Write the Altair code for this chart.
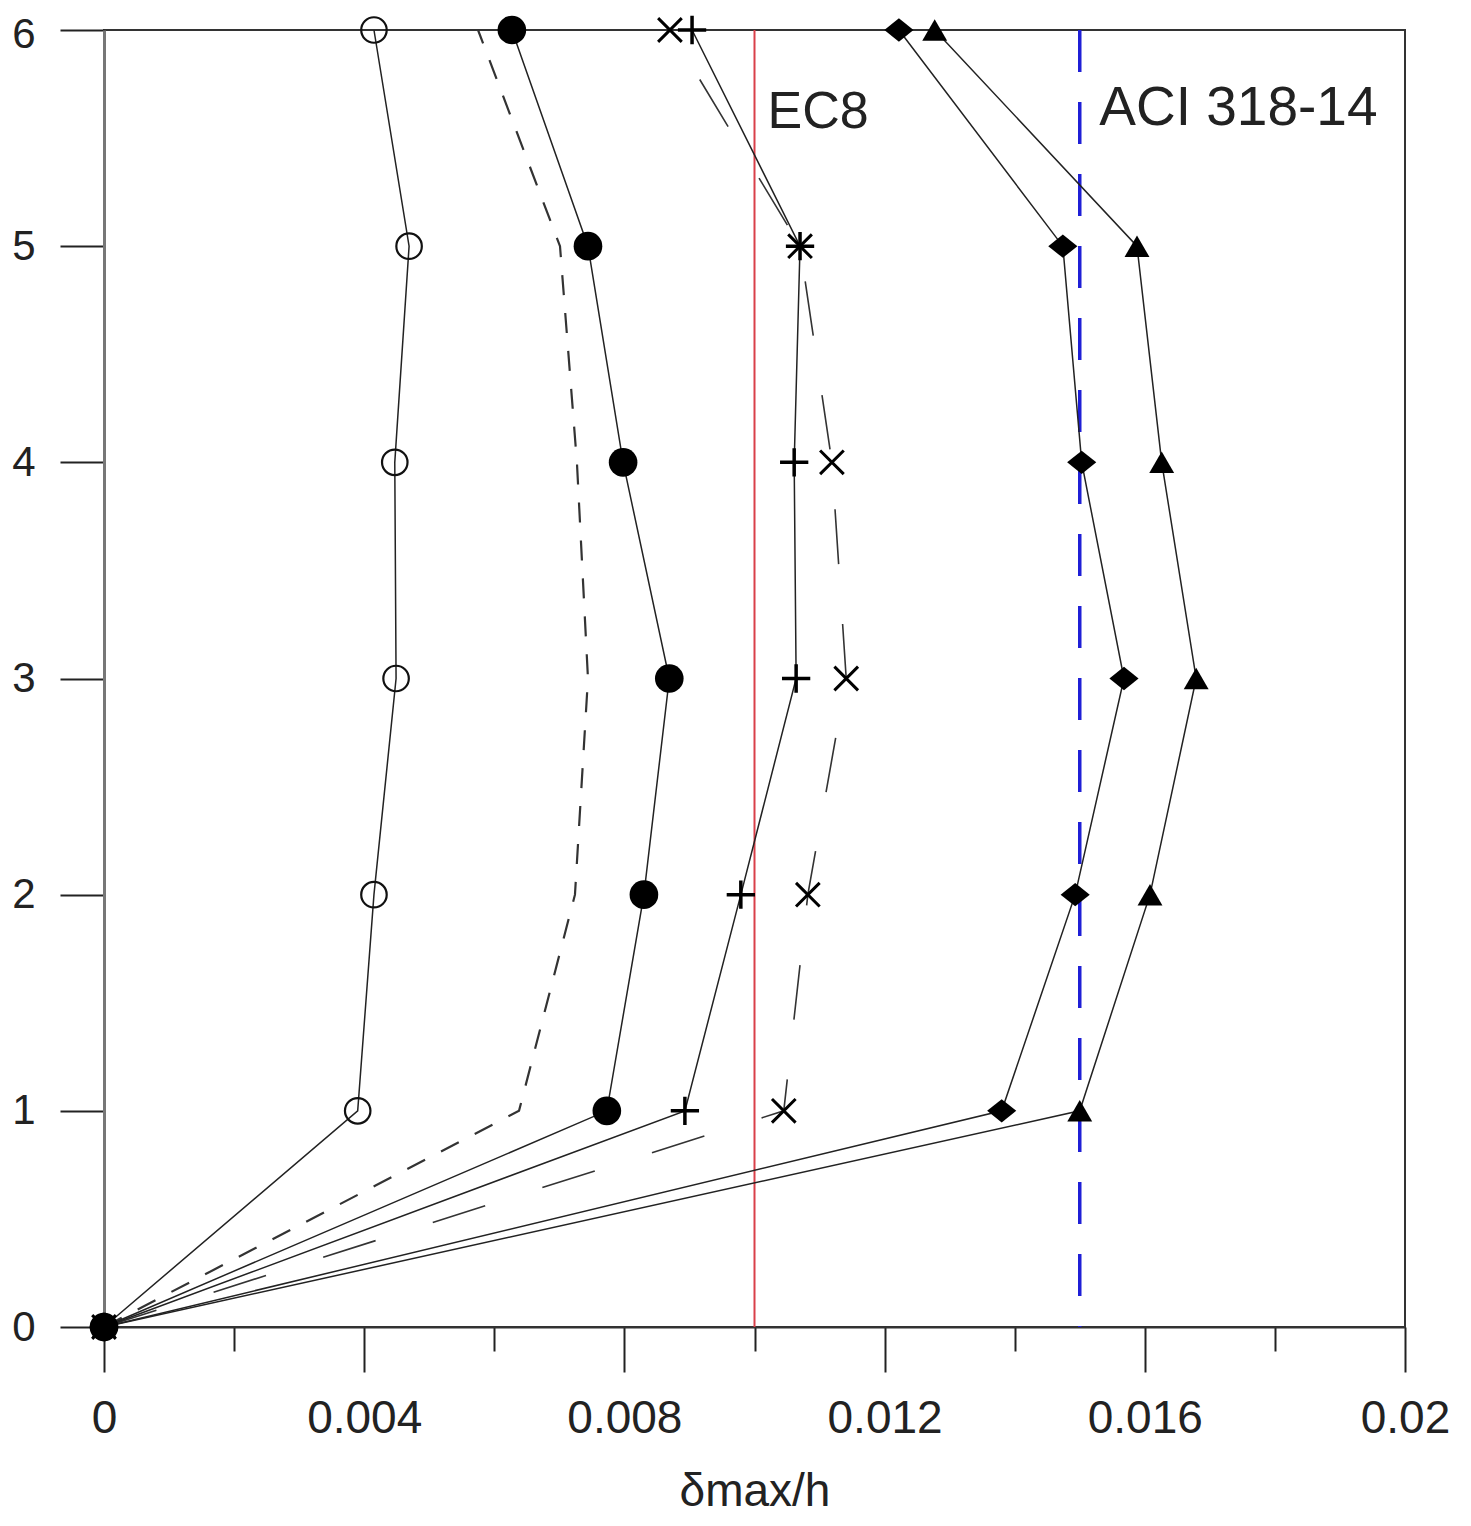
import json
import altair as alt
import pandas as pd

# ---------------- data ----------------
stories = [0, 1, 2, 3, 4, 5, 6]
open_circle = [0, 0.00390, 0.00415, 0.00449, 0.00447, 0.00469, 0.00415]
short_dash = [0, 0.00638, 0.00724, 0.00744, 0.00727, 0.00701, 0.00575]
filled_circle = [0, 0.00773, 0.00830, 0.00869, 0.00798, 0.00744, 0.00627]
plus_series = [0, 0.00893, 0.00979, 0.01064, 0.01061, 0.01070, 0.00904]
cross_series = [0, 0.01045, 0.01082, 0.01141, 0.01119, 0.01070, 0.00870]
diamond_series = [0, 0.01380, 0.01493, 0.01568, 0.01503, 0.01474, 0.01222]
triangle_series = [0, 0.01500, 0.01608, 0.01679, 0.01626, 0.01588, 0.01277]

code_names = ["EC8", "ACI 318-14"]
code_limits = [0.010, 0.015]
label_drift = [0.0102, 0.0153]
label_story = [5.62, 5.64]

x_major = [0, 0.004, 0.008, 0.012, 0.016, 0.02]
x_minor = [0.002, 0.006, 0.01, 0.014, 0.018]
y_ticks = [0, 1, 2, 3, 4, 5, 6]

series = {
    "open": open_circle,
    "short": short_dash,
    "filled": filled_circle,
    "plus": plus_series,
    "cross": cross_series,
    "diamond": diamond_series,
    "triangle": triangle_series,
}
rows = []
for name, vals in series.items():
    for s, v in zip(stories, vals):
        rows.append({"series": name, "story": s, "drift": v})
df = pd.DataFrame(rows)

codes_df = pd.DataFrame({"code": code_names, "drift": code_limits})
labels_df = pd.DataFrame({"code": code_names, "drift": label_drift, "story": label_story})

# ---------------- scales / axes ----------------
FONT = "Liberation Sans"
major_test = "indexof(%s, datum.value) >= 0" % json.dumps(x_major)

x_axis = alt.Axis(
    values=sorted(x_major + x_minor),
    format="~g",
    labelExpr="(%s) ? datum.label : ''" % major_test,
    tickSize={"condition": {"test": major_test, "value": 45}, "value": 24},
    labelPadding=24,
    labelFlush=False,
    labelOverlap=False,
    labelFontSize=46,
    title="δmax/h",
    titlePadding=28,
    grid=False,
    domainColor="#333",
    domainWidth=2,
)
y_axis = alt.Axis(
    values=y_ticks,
    format="d",
    tickSize=44,
    labelPadding=25,
    labelFlush=False,
    labelFontSize=42,
    labelOffset={"condition": {"test": "datum.value == %d" % max(y_ticks), "value": 4}, "value": 0},
    title=None,
    grid=False,
    domainColor="#777",
    domainWidth=3,
)
X = alt.X("drift:Q", scale=alt.Scale(domain=[0, 0.02], nice=False, zero=False), axis=x_axis)
Y = alt.Y("story:Q", scale=alt.Scale(domain=[0, 6], nice=False), axis=y_axis)

base = alt.Chart(df).encode(x=X, y=Y, order=alt.Order("story:Q"))

def only(*names):
    return alt.FieldOneOfPredicate(field="series", oneOf=list(names))

# code limit lines
ec8 = alt.Chart(codes_df).transform_filter(alt.datum.code == "EC8").mark_rule(
    color="#d9404a", strokeWidth=2).encode(x=X)
aci = alt.Chart(codes_df).transform_filter(alt.datum.code == "ACI 318-14").mark_rule(
    color="#1f1fd6", strokeWidth=3.5, strokeDash=[42, 30]).encode(x=X)

# series lines
solid_lines = base.transform_filter(only("open", "filled", "plus", "diamond", "triangle")).mark_line(
    color="#222", strokeWidth=1.5).encode(detail="series:N")
short_line = base.transform_filter(only("short")).mark_line(
    color="#333", strokeWidth=2.2, strokeDash=[20, 18])
long_line = base.transform_filter(only("cross")).mark_line(
    color="#333", strokeWidth=1.6, strokeDash=[55, 60])

# markers
m_open = base.transform_filter(only("open")).mark_point(
    shape="circle", filled=False, size=650, color="#111", strokeWidth=2.2, opacity=1)
m_filled = base.transform_filter(only("filled")).mark_point(
    shape="circle", filled=True, size=820, color="#000", opacity=1)
m_plus = base.transform_filter(only("plus")).mark_point(
    shape="M-1,0L1,0M0,-1L0,1", filled=False, size=800, color="#000", strokeWidth=3.5, opacity=1)
m_cross = base.transform_filter(only("cross")).mark_point(
    shape="M-1,-1L1,1M-1,1L1,-1", filled=False, size=560, color="#000", strokeWidth=3, opacity=1)
m_diamond = base.transform_filter(only("diamond")).mark_point(
    shape="M-1,0L0,-0.8L1,0L0,0.8Z", filled=True, size=850, color="#000", opacity=1)
m_triangle = base.transform_filter(only("triangle")).mark_point(
    shape="triangle-up", filled=True, size=620, color="#000", opacity=1)

# code labels
ec8_text = alt.Chart(labels_df).transform_filter(alt.datum.code == "EC8").mark_text(
    align="left", baseline="middle", font=FONT, fontSize=52, color="#222").encode(
    x=X, y=Y, text="code:N")
aci_text = alt.Chart(labels_df).transform_filter(alt.datum.code == "ACI 318-14").mark_text(
    align="left", baseline="middle", font=FONT, fontSize=55, color="#222").encode(
    x=X, y=Y, text="code:N")

chart = alt.layer(
    ec8, aci, short_line, long_line, solid_lines,
    m_open, m_filled, m_plus, m_cross, m_diamond, m_triangle,
    ec8_text, aci_text,
).properties(
    width=1301,
    height=1297,
    autosize="none",
    padding={"left": 96, "top": 22, "right": 58, "bottom": 195},
).configure_axis(
    labelFont=FONT,
    labelColor="#222",
    titleFont=FONT,
    titleFontSize=46,
    titleFontWeight="normal",
    titleColor="#222",
    tickColor="#222",
    tickWidth=2,
).configure_view(
    stroke="#333",
    strokeWidth=2,
)

chart.save("out.html", embed_options={"renderer": "svg", "actions": False})
